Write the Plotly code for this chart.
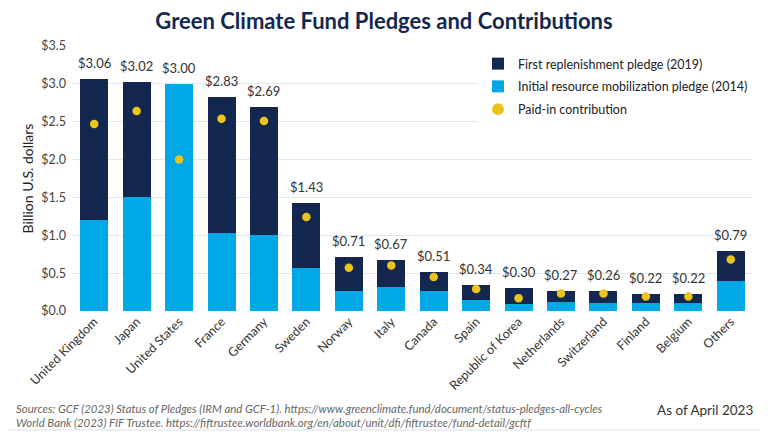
import plotly.graph_objects as go

countries = ["United Kingdom", "Japan", "United States", "France", "Germany", "Sweden",
             "Norway", "Italy", "Canada", "Spain", "Republic of Korea", "Netherlands",
             "Switzerland", "Finland", "Belgium", "Others"]
totals = [3.06, 3.02, 3.00, 2.83, 2.69, 1.43, 0.71, 0.67, 0.51, 0.34, 0.30, 0.27, 0.26, 0.22, 0.22, 0.79]
initial_2014 = [1.20, 1.50, 3.00, 1.03, 1.00, 0.57, 0.26, 0.32, 0.27, 0.15, 0.09, 0.12, 0.11, 0.10, 0.10, 0.40]
paid_in = [2.47, 2.64, 2.00, 2.54, 2.51, 1.24, 0.57, 0.60, 0.45, 0.29, 0.17, 0.23, 0.23, 0.19, 0.19, 0.68]
first_2019 = [round(t - i, 2) for t, i in zip(totals, initial_2014)]
labels = [f"${t:.2f}" for t in totals]
y_ticks = [0, 0.5, 1.0, 1.5, 2.0, 2.5, 3.0, 3.5]
y_ticktext = [f"${v:.1f}" for v in y_ticks]

NAVY = "#14284f"
BLUE = "#00a8e6"
YELLOW = "#ecc51c"
FONT = "Lato"

fig = go.Figure()
fig.add_trace(go.Bar(x=countries, y=initial_2014, name="Initial resource mobilization pledge (2014)",
                     marker=dict(color=BLUE, line=dict(width=0)), legendrank=2, legendgroup="b"))
fig.add_trace(go.Bar(x=countries, y=first_2019, name="First replenishment pledge (2019)",
                     marker=dict(color=NAVY, line=dict(width=0)), legendrank=1, legendgroup="a"))
fig.add_trace(go.Scatter(x=countries, y=paid_in, name="Paid-in contribution", mode="markers",
                         marker=dict(color=YELLOW, size=8.5), legendrank=3, legendgroup="c"))

# page body has an 8px margin: figure is offset by 8px
OFF = 8
W, H = 768 - OFF, 432 - OFF
PL, PR, PT, PB = 73, 752, 46, 311   # plot area in page pixels
L, T = PL - OFF, PT - OFF
R, B = W - (PR - OFF), H - (PB - OFF)
pw, ph = PR - PL, PB - PT

def px(x):
    return (x - PL) / pw

def py(y):
    return (PB - y) / ph

fig.update_layout(
    width=W, height=H,
    margin=dict(l=L, r=R, t=T, b=B, autoexpand=False),
    paper_bgcolor="white", plot_bgcolor="white",
    barmode="stack", bargap=0.34,
    font=dict(family=FONT, color="#333333"),
    title=dict(text="<b>Green Climate Fund Pledges and Contributions</b>", x=0.5 - OFF / 2 / W, xanchor="center",
               y=1 - (21 - OFF) / H, yanchor="middle", yref="container",
               font=dict(size=22, color=NAVY, family=FONT)),
    legend=dict(x=px(478), y=py(49), xanchor="left", yanchor="top", bgcolor="white",
                font=dict(size=12.5, color="#222222", family=FONT), traceorder="grouped",
                itemsizing="constant", tracegroupgap=3.5),
    xaxis=dict(range=[-0.5, 15.5], tickangle=-45, tickfont=dict(size=12.5, color="#333333"), showgrid=False,
               showline=False, ticks="", automargin=False),
    yaxis=dict(range=[0, 3.5], tickvals=y_ticks, ticktext=y_ticktext, automargin=False,
               tickfont=dict(size=12.5, color="#444444"), gridcolor="#e3e6ee", gridwidth=1,
               zeroline=False, showline=False, ticklabelstandoff=6,
               title=dict(text="Billion U.S. dollars", font=dict(size=14, color="#222222"), standoff=4)),
    showlegend=True,
)

for c, t, lab in zip(countries, totals, labels):
    fig.add_annotation(x=c, y=t, text=lab, showarrow=False, yanchor="middle", yshift=16,
                       font=dict(size=13, color="#333333", family=FONT))

fig.add_annotation(xref="paper", yref="paper", x=px(14), y=py(408), xanchor="left", yanchor="middle",
                   text="<i>Sources: GCF (2023) Status of Pledges (IRM and GCF-1). https://www.greenclimate.fund/document/status-pledges-all-cycles</i>",
                   showarrow=False, font=dict(size=11.4, color="#666666", family=FONT))
fig.add_annotation(xref="paper", yref="paper", x=px(14), y=py(422), xanchor="left", yanchor="middle",
                   text="<i>World Bank (2023) FIF Trustee. https://fiftrustee.worldbank.org/en/about/unit/dfi/fiftrustee/fund-detail/gcftf</i>",
                   showarrow=False, font=dict(size=11.4, color="#666666", family=FONT))
fig.add_annotation(xref="paper", yref="paper", x=px(755), y=py(410), xanchor="right", yanchor="middle",
                   text="As of April 2023", showarrow=False, font=dict(size=13.5, color="#333333", family=FONT))

# faint frame on the right and bottom edges
fig.add_shape(type="line", xref="paper", yref="paper", x0=px(766), x1=px(766), y0=py(8), y1=py(430),
              line=dict(color="#dde0e6", width=1))
fig.add_shape(type="line", xref="paper", yref="paper", x0=px(8), x1=px(766), y0=py(430), y1=py(430),
              line=dict(color="#dde0e6", width=1))

fig.write_html("out.html")
